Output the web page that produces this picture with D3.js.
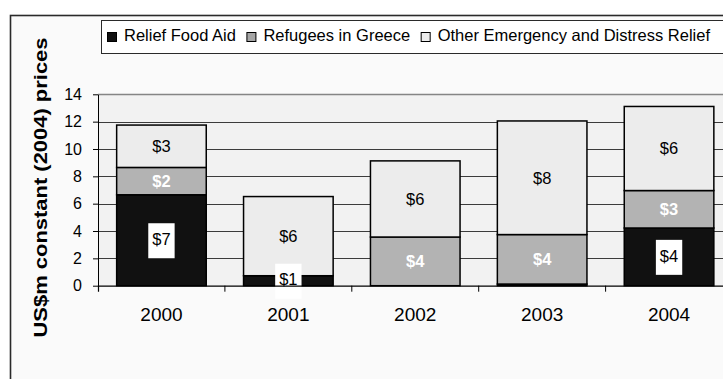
<!DOCTYPE html>
<html>
<head>
<meta charset="utf-8">
<script src="https://cdn.jsdelivr.net/npm/d3@7"></script>
<style>
  body { margin: 0; background: #ffffff; }
  svg { display: block; }
  text { font-family: "Liberation Sans", Arial, sans-serif; }
</style>
</head>
<body>
<svg id="chart" width="723" height="379"></svg>
<script>
// Humanitarian aid by year, US$m constant (2004) prices
const years = ["2000", "2001", "2002", "2003", "2004"];
const reliefFoodAid = [6.65, 0.73, 0, 0.12, 4.22];
const refugeesInGreece = [2.0, 0, 3.56, 3.62, 2.74];
const otherEmergency = [3.1, 5.79, 5.57, 8.31, 6.15];
const seriesNames = ["Relief Food Aid", "Refugees in Greece", "Other Emergency and Distress Relief"];
const yTicks = [0, 2, 4, 6, 8, 10, 12, 14];
const yTitle = "US$m constant (2004) prices";

const keys = ["food", "refugees", "other"];
const colors = { food: "#111111", refugees: "#b3b3b3", other: "#ececec" };
const legendColors = { food: "#111111", refugees: "#a6a6a6", other: "#ececec" };

const rows = years.map((yr, i) => ({
  year: yr,
  food: reliefFoodAid[i],
  refugees: refugeesInGreece[i],
  other: otherEmergency[i]
}));

const svg = d3.select("#chart");

// chart frame (runs off the right and bottom of the page)
svg.append("rect")
  .attr("x", 10.5).attr("y", 15.5)
  .attr("width", 800).attr("height", 400)
  .attr("fill", "#fafafa")
  .attr("stroke", "#2a2a2a").attr("stroke-width", 1.6);

const plotLeft = 98, plotRight = 732.5, plotTop = 94.3, plotBottom = 285.7;

const x = d3.scaleBand().domain(years).range([plotLeft, plotRight])
  .paddingInner(0.294).paddingOuter(0.147);
const y = d3.scaleLinear().domain([0, 14]).range([plotBottom, plotTop]);

// plot area
svg.append("rect")
  .attr("x", plotLeft).attr("y", plotTop)
  .attr("width", plotRight - plotLeft).attr("height", plotBottom - plotTop)
  .attr("fill", "#f2f2f2");

// gridlines
svg.append("g").selectAll("line")
  .data(yTicks.filter(t => t > 0))
  .join("line")
  .attr("x1", plotLeft).attr("x2", plotRight)
  .attr("y1", d => Math.round(y(d)) + 0.5).attr("y2", d => Math.round(y(d)) + 0.5)
  .attr("stroke", d => d === 14 ? "#858585" : "#3c3c3c")
  .attr("stroke-width", d => d === 14 ? 1.3 : 1);

// stacked bars
const stacked = d3.stack().keys(keys)(rows);

const layers = svg.append("g").selectAll("g")
  .data(stacked)
  .join("g")
  .attr("fill", d => colors[d.key]);

layers.selectAll("rect")
  .data(d => d.filter(s => s[1] - s[0] > 0))
  .join("rect")
  .attr("x", d => x(d.data.year))
  .attr("width", x.bandwidth())
  .attr("y", d => y(d[1]))
  .attr("height", d => y(d[0]) - y(d[1]))
  .attr("stroke", "#000")
  .attr("stroke-width", 1.5);

// value labels
const labels = svg.append("g");
stacked.forEach(layer => {
  layer.forEach(seg => {
    const v = seg[1] - seg[0];
    const rounded = Math.round(v);
    if (rounded < 1) return;
    const cx = x(seg.data.year) + x.bandwidth() / 2;
    const cy = (y(seg[0]) + y(seg[1])) / 2;
    const txt = "$" + rounded;
    if (layer.key === "food") {
      const t = labels.append("text")
        .attr("x", cx).attr("y", cy - 1)
        .attr("dy", "0.35em")
        .attr("text-anchor", "middle")
        .attr("font-size", 16.5)
        .attr("fill", "#000")
        .text(txt);
      const w = t.node().getComputedTextLength() + 8;
      labels.insert("rect", "text")
        .attr("x", cx - w / 2).attr("y", cy - 17)
        .attr("width", w).attr("height", 35)
        .attr("fill", "#ffffff");
    } else {
      labels.append("text")
        .attr("x", cx).attr("y", cy)
        .attr("dy", "0.35em")
        .attr("text-anchor", "middle")
        .attr("font-size", 16.5)
        .attr("font-weight", layer.key === "refugees" ? "bold" : "normal")
        .attr("fill", layer.key === "refugees" ? "#ffffff" : "#000")
        .text(txt);
    }
  });
});
// keep label boxes behind their text
labels.selectAll("rect").lower();

// y axis
const yAxis = svg.append("g")
  .attr("transform", `translate(${plotLeft},0)`)
  .call(d3.axisLeft(y).tickValues(yTicks).tickSize(5).tickSizeOuter(0).tickPadding(11));
yAxis.selectAll("text").attr("font-size", 16).attr("fill", "#000").attr("font-family", null);
yAxis.selectAll("line,path").attr("stroke", "#000");

// x axis
const xAxis = svg.append("g")
  .attr("transform", `translate(0,${plotBottom})`)
  .call(d3.axisBottom(x).tickSize(0).tickSizeOuter(6).tickPadding(22));
xAxis.selectAll("text").attr("font-size", 19).attr("fill", "#000").attr("font-family", null);
xAxis.selectAll("path").attr("stroke", "#000").attr("stroke-width", 1.2);

// category boundary ticks
const half = x.step() * x.paddingInner() / 2;
svg.append("g").selectAll("line")
  .data(years.slice(1))
  .join("line")
  .attr("x1", d => x(d) - half).attr("x2", d => x(d) - half)
  .attr("y1", plotBottom).attr("y2", plotBottom + 6)
  .attr("stroke", "#000");

// y axis title
svg.append("text")
  .attr("transform", `translate(47,187.5) rotate(-90)`)
  .attr("text-anchor", "middle")
  .attr("font-size", 19)
  .attr("font-weight", "bold")
  .attr("textLength", 300)
  .attr("lengthAdjust", "spacingAndGlyphs")
  .text(yTitle);

// legend
const legend = svg.append("g");
legend.append("rect")
  .attr("x", 101.5).attr("y", 20.5)
  .attr("width", 700).attr("height", 33)
  .attr("fill", "#ffffff")
  .attr("stroke", "#2a2a2a");

let lx = 107.5;
keys.forEach((k, i) => {
  legend.append("rect")
    .attr("x", lx).attr("y", 32.5)
    .attr("width", 9).attr("height", 9)
    .attr("fill", legendColors[k])
    .attr("stroke", "#000");
  const t = legend.append("text")
    .attr("x", lx + 16.5).attr("y", 40.7)
    .attr("font-size", 16.5)
    .attr("fill", "#000")
    .text(seriesNames[i]);
  lx += 16.5 + t.node().getComputedTextLength() + 11;
});
</script>
</body>
</html>
